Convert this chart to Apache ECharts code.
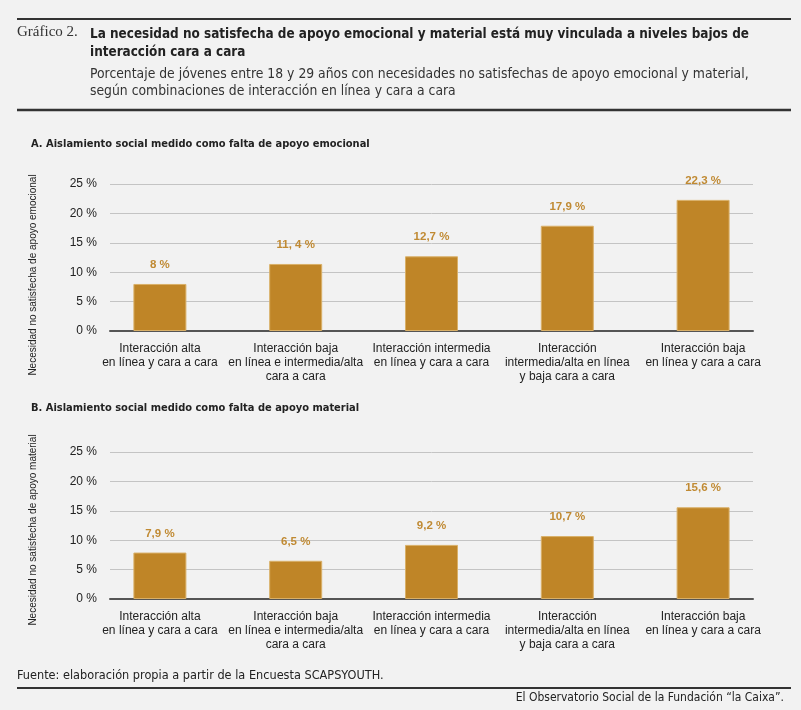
<!DOCTYPE html>
<html>
<head>
<meta charset="utf-8">
<script src="https://cdn.jsdelivr.net/npm/echarts@6/dist/echarts.min.js"></script>
<style>
  html, body { margin: 0; padding: 0; background: #f2f2f2; }
  #chart { width: 801px; height: 710px; }
</style>
</head>
<body>
<div id="chart"></div>
<script>
// categories shared by both panels
const categories = [
  'Interacción alta\nen línea y cara a cara',
  'Interacción baja\nen línea e intermedia/alta\ncara a cara',
  'Interacción intermedia\nen línea y cara a cara',
  'Interacción\nintermedia/alta en línea\ny baja cara a cara',
  'Interacción baja\nen línea y cara a cara'
];

// A. falta de apoyo emocional
const valuesA = [8, 11.4, 12.7, 17.9, 22.3];
const labelsA = ['8 %', '11, 4 %', '12,7 %', '17,9 %', '22,3 %'];

// B. falta de apoyo material
const valuesB = [7.9, 6.5, 9.2, 10.7, 15.6];
const labelsB = ['7,9 %', '6,5 %', '9,2 %', '10,7 %', '15,6 %'];

const yTicks = [0, 5, 10, 15, 20, 25];

const BAR = '#bf8527';
const LABEL = '#c08a33';
const SANS = "'Liberation Sans', Arial, sans-serif";
const NARROW = "'Liberation Sans Narrow', 'DejaVu Sans Condensed', 'Liberation Sans', sans-serif";

const chart = echarts.init(document.getElementById('chart'), null, {renderer: 'canvas'});

// each panel: one grid for the y scale/gridlines, one for the bars
const panels = [
  {top: 184, values: valuesA, labels: labelsA},
  {top: 452, values: valuesB, labels: labelsB}
];
const plotH = 147;

const grid = [], xAxis = [], yAxis = [], series = [];
panels.forEach((p, i) => {
  grid.push({left: 110, right: 48, top: p.top, height: plotH});
  grid.push({left: 92, right: 30, top: p.top, height: plotH});

  xAxis.push({
    gridIndex: i * 2, type: 'value', min: 0, max: 1,
    axisLine: {show: true, lineStyle: {color: '#555', width: 2}},
    axisTick: {show: false}, axisLabel: {show: false}, splitLine: {show: false}
  });
  xAxis.push({
    gridIndex: i * 2 + 1, type: 'category', data: categories,
    axisLine: {show: false}, axisTick: {show: false},
    axisLabel: {
      interval: 0, margin: 11, color: '#222', fontSize: 12, lineHeight: 14,
      fontFamily: SANS
    }
  });

  yAxis.push({
    gridIndex: i * 2, type: 'value', min: 0, max: 25, interval: 5,
    axisLine: {show: false}, axisTick: {show: false},
    axisLabel: {
      formatter: v => v + ' %', color: '#222', fontSize: 12, margin: 13,
      fontFamily: SANS
    },
    splitLine: {lineStyle: {color: '#c4c4c4', width: 1}}
  });
  yAxis.push({
    gridIndex: i * 2 + 1, type: 'value', min: 0, max: 25, show: false,
    splitLine: {show: false}
  });

  series.push({
    type: 'bar', xAxisIndex: i * 2 + 1, yAxisIndex: i * 2 + 1,
    data: p.values, barWidth: 53,
    itemStyle: {color: BAR, borderColor: '#d9b068', borderWidth: 1},
    label: {
      show: true, position: 'top', distance: 13,
      formatter: d => p.labels[d.dataIndex],
      color: LABEL, fontWeight: 'bold', fontSize: 11.5, fontFamily: SANS
    },
    silent: true
  });
});

const rule = (y, w) => ({
  type: 'line', silent: true,
  shape: {x1: 17, y1: y, x2: 791, y2: y},
  style: {stroke: '#333', lineWidth: w}
});

const option = {
  backgroundColor: '#f2f2f2',
  animation: false,
  grid, xAxis, yAxis, series,
  graphic: [
    rule(19, 2),
    rule(110, 2.5),
    rule(688, 2),
    {type: 'text', left: 17, top: 25, silent: true,
     style: {text: 'Gráfico 2.', font: "15px 'Liberation Serif', serif", fill: '#333'}},
    {type: 'text', left: 90, top: 26, silent: true,
     style: {
       text: 'La necesidad no satisfecha de apoyo emocional y material está muy vinculada a niveles bajos de\ninteracción cara a cara',
       font: 'bold 13.4px ' + NARROW, fill: '#222', lineHeight: 18
     }},
    {type: 'text', left: 90, top: 66, silent: true,
     style: {
       text: 'Porcentaje de jóvenes entre 18 y 29 años con necesidades no satisfechas de apoyo emocional y material,\nsegún combinaciones de interacción en línea y cara a cara',
       font: '13.8px ' + NARROW, fill: '#333', lineHeight: 17
     }},
    {type: 'text', left: 31, top: 139, silent: true,
     style: {text: 'A. Aislamiento social medido como falta de apoyo emocional',
       font: 'bold 11px ' + NARROW, fill: '#222'}},
    {type: 'text', left: 31, top: 403, silent: true,
     style: {text: 'B. Aislamiento social medido como falta de apoyo material',
       font: 'bold 11px ' + NARROW, fill: '#222'}},
    {type: 'text', x: 33, y: 275, rotation: Math.PI / 2, silent: true,
     style: {text: 'Necesidad no satisfecha de apoyo emocional',
       font: '10px ' + SANS, fill: '#222', align: 'center', verticalAlign: 'middle'}},
    {type: 'text', x: 33, y: 530, rotation: Math.PI / 2, silent: true,
     style: {text: 'Necesidad no satisfecha de apoyo material',
       font: '10px ' + SANS, fill: '#222', align: 'center', verticalAlign: 'middle'}},
    {type: 'text', left: 17, top: 669, silent: true,
     style: {text: 'Fuente: elaboración propia a partir de la Encuesta SCAPSYOUTH.',
       font: '12.6px ' + NARROW, fill: '#222'}},
    {type: 'text', right: 17, top: 692, silent: true,
     style: {text: 'El Observatorio Social de la Fundación “la Caixa”.',
       font: '12px ' + NARROW, fill: '#222'}}
  ]
};

chart.setOption(option);
</script>
</body>
</html>
